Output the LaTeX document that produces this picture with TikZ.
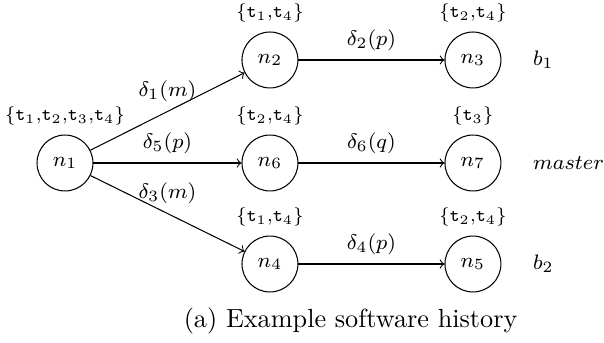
\documentclass[tikz,border=0pt]{standalone}
\usepackage{tikz}
\usetikzlibrary{positioning}
\tikzset{commit/.style={circle,draw,minimum size=0.75cm,inner sep=0pt},
  tagset/.style={font=\fontsize{6.6}{8}\selectfont},
  branch/.style={right=0.3cm of #1}}

\begin{document}
\begin{tikzpicture}[x=1cm,y=1cm,font=\fontsize{8.3}{10}\selectfont]
  \useasboundingbox (0,0) rectangle (8.097,4.598);
  %% commits
  \node[commit,label={[tagset]above:$\{\mathtt{t}_1{,}\mathtt{t}_2{,}\mathtt{t}_3{,}\mathtt{t}_4\}$}] (n1) at (0.871,2.413) {$n_1$};
  \node[commit,label={[tagset]above:$\{\mathtt{t}_1{,}\mathtt{t}_4\}$}] (n2) at (3.619,3.794) {$n_2$};
  \node[commit,label={[tagset]above:$\{\mathtt{t}_2{,}\mathtt{t}_4\}$}] (n6) at (3.619,2.413) {$n_6$};
  \node[commit,label={[tagset]above:$\{\mathtt{t}_1{,}\mathtt{t}_4\}$}] (n4) at (3.619,1.059) {$n_4$};
  \node[commit,label={[tagset]above:$\{\mathtt{t}_2{,}\mathtt{t}_4\}$}] (n3) at (6.340,3.794) {$n_3$};
  \node[commit,label={[tagset]above:$\{\mathtt{t}_3\}$}] (n7) at (6.340,2.413) {$n_7$};
  \node[commit,label={[tagset]above:$\{\mathtt{t}_2{,}\mathtt{t}_4\}$}] (n5) at (6.340,1.059) {$n_5$};

  %% branches
  \node[branch=n3] (b1) {$b_1$};
  \node[branch=n7] (master) {$master$};
  \node[branch=n5] (b2) {$b_2$};

  %% deltas
  \draw[->] (n1) -- node[above] {$\delta_1(m)$} (n2);
  \draw[->] (n1) -- node[above] {$\delta_5(p)$} (n6);
  \draw[->] (n1) -- node[above] {$\delta_3(m)$} (n4);
  \draw[->] (n2) -- node[above] {$\delta_2(p)$} (n3);
  \draw[->] (n6) -- node[above] {$\delta_6(q)$} (n7);
  \draw[->] (n4) -- node[above] {$\delta_4(p)$} (n5);

  \node[font=\normalsize] (caption) at (4.70,0.295) {(a) Example software history};
\end{tikzpicture}
\end{document}
